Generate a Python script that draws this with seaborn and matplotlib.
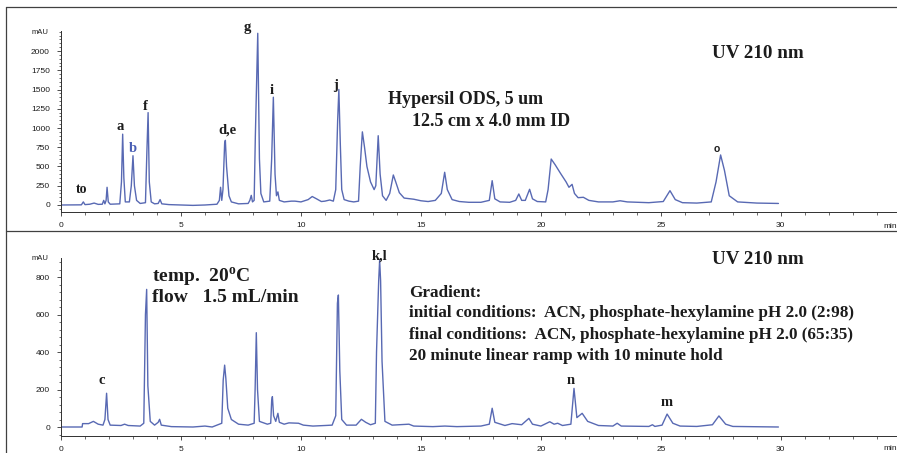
import matplotlib
matplotlib.use("Agg")
import matplotlib.pyplot as plt
import seaborn as sns
import pandas as pd
from matplotlib.ticker import MultipleLocator
from matplotlib.lines import Line2D

# ---------------- data ----------------
top_time = [0.0, 0.85, 0.93, 1.0, 1.2, 1.38, 1.55, 1.72, 1.78, 1.83, 1.88, 1.92, 1.97, 2.05,
            2.45, 2.52, 2.57, 2.62, 2.68, 2.85, 2.93, 3.0, 3.06, 3.15, 3.3, 3.52, 3.58, 3.63,
            3.68, 3.76, 3.9, 4.05, 4.13, 4.2, 4.5, 5.0, 5.5, 6.0, 6.5, 6.6, 6.65, 6.7, 6.75,
            6.82, 6.85, 6.9, 7.0, 7.1, 7.4, 7.8, 7.87, 7.93, 7.98, 8.05, 8.1, 8.2, 8.27, 8.33,
            8.45, 8.7, 8.78, 8.85, 8.92, 8.98, 9.04, 9.1, 9.3, 9.6, 9.75, 10.0, 10.3, 10.47,
            10.65, 10.85, 11.0, 11.2, 11.35, 11.45, 11.53, 11.58, 11.64, 11.7, 11.8, 12.0,
            12.2, 12.4, 12.47, 12.56, 12.65, 12.75, 12.9, 13.05, 13.12, 13.22, 13.3, 13.4,
            13.55, 13.7, 13.85, 13.95, 14.1, 14.3, 14.7, 15.0, 15.3, 15.6, 15.85, 15.99, 16.1,
            16.3, 16.6, 17.0, 17.5, 17.85, 17.97, 18.08, 18.3, 18.7, 18.95, 19.08, 19.2, 19.35,
            19.53, 19.65, 19.85, 20.2, 20.3, 20.43, 20.6, 20.82, 21.05, 21.17, 21.3, 21.4,
            21.55, 21.77, 22.0, 22.4, 23.0, 23.3, 23.6, 24.5, 25.1, 25.38, 25.6, 25.9, 26.5,
            27.1, 27.3, 27.49, 27.65, 27.85, 28.2, 29.0, 29.9]
top_mau = [0, 2, 40, 5, 10, 25, 8, 10, 60, 15, 60, 230, 40, 10,
           15, 300, 920, 350, 40, 40, 250, 640, 250, 60, 20, 30, 700, 1200,
           300, 40, 15, 20, 70, 15, 5, 0, -5, 0, 10, 60, 230, 60, 200,
           800, 840, 500, 120, 40, 15, 20, 60, 125, 40, 60, 900, 2230, 600, 150,
           40, 50, 600, 1400, 400, 120, 170, 60, 40, 50, 50, 40, 70, 110,
           80, 45, 50, 65, 50, 200, 1100, 1500, 800, 200, 70, 50,
           40, 50, 500, 950, 750, 500, 300, 200, 250, 900, 400, 120,
           60, 150, 390, 300, 160, 90, 75, 55, 45, 60, 150, 425, 200,
           70, 45, 35, 35, 60, 316, 80, 40, 35, 60, 143, 60, 60,
           204, 80, 45, 40, 200, 597, 520, 410, 300, 230, 268, 150,
           95, 100, 60, 40, 40, 55, 40, 30, 45, 186, 70, 30, 25,
           40, 300, 650, 450, 120, 40, 25, 20]

bot_time = [0.0, 0.88, 0.9, 1.15, 1.35, 1.55, 1.75, 1.83, 1.9, 1.96, 2.05, 2.5, 2.65, 2.8,
            3.3, 3.45, 3.52, 3.57, 3.62, 3.72, 3.9, 4.05, 4.11, 4.18, 4.6, 5.5, 6.0, 6.3,
            6.7, 6.76, 6.82, 6.87, 6.95, 7.1, 7.4, 7.8, 8.05, 8.09, 8.14, 8.19, 8.27, 8.6,
            8.74, 8.78, 8.81, 8.86, 8.95, 9.04, 9.1, 9.3, 9.5, 9.9, 10.1, 10.5, 11.0, 11.3,
            11.45, 11.52, 11.56, 11.62, 11.7, 11.9, 12.3, 12.52, 12.7, 12.9, 13.1, 13.15,
            13.24, 13.28, 13.32, 13.38, 13.5, 13.8, 14.5, 14.7, 15.5, 16.0, 16.5, 17.5,
            17.85, 17.97, 18.08, 18.5, 18.8, 19.2, 19.5, 19.65, 20.0, 20.37, 20.55, 20.7,
            20.9, 21.25, 21.38, 21.5, 21.72, 21.95, 22.4, 23.0, 23.18, 23.35, 24.5, 24.65,
            24.75, 25.05, 25.26, 25.5, 25.8, 26.5, 27.15, 27.42, 27.7, 28.0, 29.9]
bot_mau = [0, 0, 18, 18, 30, 15, 10, 40, 180, 40, 10, 8, 15, 8,
           5, 20, 600, 734, 220, 30, 10, 25, 41, 10, 2, 0, 5, 0,
           20, 250, 330, 260, 100, 40, 15, 10, 20, 200, 503, 200, 30, 15,
           20, 140, 162, 60, 30, 73, 25, 15, 22, 20, 10, 5, 8, 10,
           60, 660, 704, 300, 40, 10, 10, 41, 25, 12, 20, 400,
           780, 890, 780, 350, 30, 10, 15, 5, 2, 5, 2, 5,
           15, 100, 25, 8, 18, 12, 46, 15, 5, 28, 15, 20,
           8, 15, 206, 50, 73, 30, 8, 5, 20, 5, 3, 12,
           3, 10, 69, 20, 5, 3, 12, 59, 15, 3, 0]

top_yticks = [0, 250, 500, 750, 1000, 1250, 1500, 1750, 2000]
bot_yticks = [0, 200, 400, 600, 800]
x_ticks = [0, 5, 10, 15, 20, 25, 30]

# ---------------- style ----------------
sns.set_theme(style="ticks")
plt.rcParams["font.family"] = ["Liberation Sans", "DejaVu Sans"]
plt.rcParams["mathtext.fontset"] = "custom"
plt.rcParams["mathtext.rm"] = "Liberation Serif"
plt.rcParams["mathtext.bf"] = "Liberation Serif:bold"

W, H = 897, 453
fig = plt.figure(figsize=(W / 100, H / 100), dpi=100)
fig.patch.set_facecolor("white")


def fx(px):
    return px / W


def fy(py):
    return 1 - py / H


LINE = "#5869b3"
TXT = "#1c1c1c"
AX = "#303030"

ax1 = fig.add_axes([fx(61), fy(212), (896 - 61) / W, (212 - 31) / H])
ax2 = fig.add_axes([fx(61), fy(436), (896 - 61) / W, (436 - 257.7) / H])

df_top = pd.DataFrame({"time": top_time, "mAU": top_mau})
df_bot = pd.DataFrame({"time": bot_time, "mAU": bot_mau})
sns.lineplot(data=df_top, x="time", y="mAU", ax=ax1, color=LINE, lw=1.0,
             sort=False, estimator=None)
sns.lineplot(data=df_bot, x="time", y="mAU", ax=ax2, color=LINE, lw=1.0,
             sort=False, estimator=None)

for ax, ylim, yt, minor in [(ax1, (-91, 2260), top_yticks, 50),
                            (ax2, (-48, 903), bot_yticks, 40)]:
    ax.set_xlim(0, 34.8)
    ax.set_ylim(*ylim)
    ax.set_xticks(x_ticks)
    ax.set_yticks(yt)
    ax.xaxis.set_minor_locator(MultipleLocator(1))
    ax.yaxis.set_minor_locator(MultipleLocator(minor))
    ax.set_xlabel("")
    ax.set_ylabel("")
    ax.set_facecolor("none")
    for s in ["top", "right"]:
        ax.spines[s].set_visible(False)
    for s in ["left", "bottom"]:
        ax.spines[s].set_color(AX)
        ax.spines[s].set_linewidth(0.7)
    ax.tick_params(which="major", direction="out", length=3, width=0.6,
                   colors=AX, labelsize=6)
    ax.tick_params(axis="x", which="major", pad=4.5)
    ax.tick_params(axis="y", which="major", pad=5)
    ax.tick_params(which="minor", direction="out", length=1.8, width=0.5, colors=AX)
    for lab in ax.get_xticklabels() + ax.get_yticklabels():
        lab.set_color(TXT)

# axis captions
fig.text(fx(40), fy(32), "mAU", fontsize=5.5, color=TXT, ha="center", va="center")
fig.text(fx(40), fy(258), "mAU", fontsize=5.5, color=TXT, ha="center", va="center")
fig.text(fx(890), fy(226), "min", fontsize=6, color=TXT, ha="center", va="center")
fig.text(fx(890), fy(449), "min", fontsize=6, color=TXT, ha="center", va="center")

# panel frame lines
for (x0, y0, x1, y1) in [(6, 7, 897, 7), (6, 7, 6, 453), (6, 231, 897, 231)]:
    fig.add_artist(Line2D([fx(x0), fx(x1)], [fy(y0), fy(y1)], color="#404040", lw=0.9))

SERIF = ["Liberation Serif", "DejaVu Serif"]


def note(px, py, s, size, ha="left", color=TXT, family=SERIF):
    fig.text(fx(px), fy(py), s, fontsize=size, color=color, ha=ha, va="center",
             fontweight="bold", family=family)


# top panel annotations
note(712, 54, "UV 210 nm", 13.7)
note(388, 100, "Hypersil ODS, 5 um", 13)
note(412, 121, "12.5 cm x 4.0 mm ID", 13)

# peak labels top
note(82, 190, "to", 10, ha="center")
note(120, 127, "a", 10.5, ha="center")
note(133, 149, "b", 10.5, ha="center", color="#4a5fb5")
note(145, 107, "f", 10.5, ha="center")
note(227, 130, "d,e", 10.5, ha="center")
note(247, 27, "g", 10.5, ha="center")
note(272, 90, "i", 10.5, ha="center")
note(336, 85, "j", 10.5, ha="center")
note(717, 149, "o", 7.5, ha="center", family=["Liberation Sans", "DejaVu Sans"])

# bottom panel annotations
note(712, 260, "UV 210 nm", 13.7)
note(152, 277, r"temp.  20$^{\mathbf{o}}$C", 14)
note(152, 297, "flow   1.5 mL/min", 14)
note(409, 293, "Gradient:", 12.3)
note(409, 313, "initial conditions:  ACN, phosphate-hexylamine pH 2.0 (2:98)", 12.3)
note(409, 335, "final conditions:  ACN, phosphate-hexylamine pH 2.0 (65:35)", 12.3)
note(409, 356, "20 minute linear ramp with 10 minute hold", 12.3)

# peak labels bottom
note(102, 380, "c", 10.5, ha="center")
note(380, 256, "k,l", 10.5, ha="center")
note(571, 381, "n", 10.5, ha="center")
note(667, 403, "m", 10.5, ha="center")

fig.savefig("out.png", dpi=100, facecolor="white")
